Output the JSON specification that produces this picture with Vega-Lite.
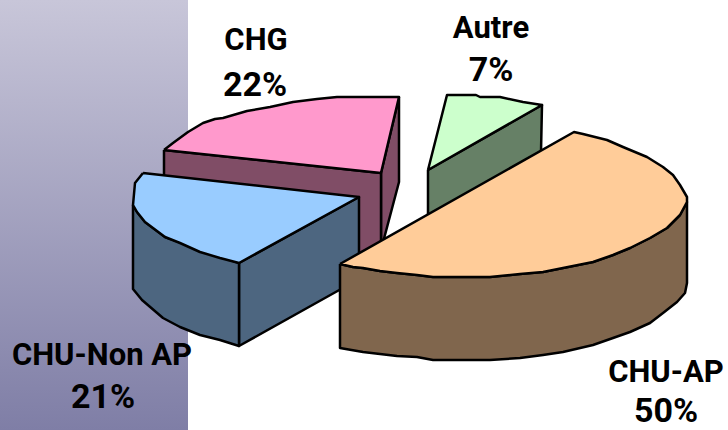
{"$schema":"https://vega.github.io/schema/vega-lite/v6.json","width":728,"height":430,"padding":0,"autosize":"none","background":"white","view":{"stroke":null},
"datasets":{
"panel":[{"x":0,"x2":188,"y":0,"y2":430}],
"names":[{"t":"CHG","x":256,"y":41},{"t":"Autre","x":491,"y":29},{"t":"CHU-Non AP","x":102,"y":356},{"t":"CHU-AP","x":666,"y":373}],
"shares":[{"t":"22%","x":255,"y":86},{"t":"7%","x":491,"y":71},{"t":"21%","x":103,"y":398},{"t":"50%","x":666,"y":412}],
"faces":[
{"s":"a1","f":"greenSide","i":1,"x":428,"y":170},{"s":"a1","f":"greenSide","i":2,"x":542,"y":105},{"s":"a1","f":"greenSide","i":3,"x":541,"y":152},{"s":"a1","f":"greenSide","i":4,"x":428,"y":216},{"s":"a1","f":"greenSide","i":5,"x":428,"y":170},
{"s":"a2","f":"green","i":1,"x":428,"y":170},{"s":"a2","f":"green","i":2,"x":447,"y":95},{"s":"a2","f":"green","i":3,"x":476,"y":95},{"s":"a2","f":"green","i":4,"x":480,"y":97},{"s":"a2","f":"green","i":5,"x":500,"y":97},{"s":"a2","f":"green","i":6,"x":523,"y":102},{"s":"a2","f":"green","i":7,"x":542,"y":105},{"s":"a2","f":"green","i":8,"x":428,"y":170},
{"s":"b1","f":"pinkSide","i":1,"x":399,"y":97},{"s":"b1","f":"pinkSide","i":2,"x":399,"y":182},{"s":"b1","f":"pinkSide","i":3,"x":381,"y":250},{"s":"b1","f":"pinkSide","i":4,"x":381,"y":173},{"s":"b1","f":"pinkSide","i":5,"x":399,"y":97},
{"s":"b2","f":"pinkSide","i":1,"x":164,"y":150},{"s":"b2","f":"pinkSide","i":2,"x":381,"y":173},{"s":"b2","f":"pinkSide","i":3,"x":381,"y":256},{"s":"b2","f":"pinkSide","i":4,"x":164,"y":240},{"s":"b2","f":"pinkSide","i":5,"x":164,"y":150},
{"s":"b3","f":"pink","i":1,"x":164,"y":150},{"s":"b3","f":"pink","i":2,"x":173,"y":143},{"s":"b3","f":"pink","i":3,"x":188,"y":132},{"s":"b3","f":"pink","i":4,"x":203,"y":123},{"s":"b3","f":"pink","i":5,"x":215,"y":119},{"s":"b3","f":"pink","i":6,"x":223,"y":118},{"s":"b3","f":"pink","i":7,"x":247,"y":111},{"s":"b3","f":"pink","i":8,"x":270,"y":107},{"s":"b3","f":"pink","i":9,"x":293,"y":102},{"s":"b3","f":"pink","i":10,"x":317,"y":99},{"s":"b3","f":"pink","i":11,"x":337,"y":97},{"s":"b3","f":"pink","i":12,"x":399,"y":97},{"s":"b3","f":"pink","i":13,"x":381,"y":173},{"s":"b3","f":"pink","i":14,"x":164,"y":150},
{"s":"c1","f":"blueSide","i":1,"x":239,"y":263},{"s":"c1","f":"blueSide","i":2,"x":359,"y":197},{"s":"c1","f":"blueSide","i":3,"x":359,"y":279},{"s":"c1","f":"blueSide","i":4,"x":239,"y":346},{"s":"c1","f":"blueSide","i":5,"x":239,"y":263},
{"s":"c2","f":"blueSide","i":1,"x":133,"y":205},{"s":"c2","f":"blueSide","i":2,"x":137,"y":212},{"s":"c2","f":"blueSide","i":3,"x":145,"y":222},{"s":"c2","f":"blueSide","i":4,"x":165,"y":237},{"s":"c2","f":"blueSide","i":5,"x":239,"y":263},{"s":"c2","f":"blueSide","i":6,"x":239,"y":346},{"s":"c2","f":"blueSide","i":7,"x":220,"y":340},{"s":"c2","f":"blueSide","i":8,"x":200,"y":335},{"s":"c2","f":"blueSide","i":9,"x":180,"y":327},{"s":"c2","f":"blueSide","i":10,"x":163,"y":318},{"s":"c2","f":"blueSide","i":11,"x":142,"y":300},{"s":"c2","f":"blueSide","i":12,"x":133,"y":289},{"s":"c2","f":"blueSide","i":13,"x":133,"y":205},
{"s":"c3","f":"blue","i":1,"x":143,"y":173},{"s":"c3","f":"blue","i":2,"x":359,"y":197},{"s":"c3","f":"blue","i":3,"x":239,"y":263},{"s":"c3","f":"blue","i":4,"x":220,"y":258},{"s":"c3","f":"blue","i":5,"x":200,"y":252},{"s":"c3","f":"blue","i":6,"x":180,"y":243},{"s":"c3","f":"blue","i":7,"x":165,"y":237},{"s":"c3","f":"blue","i":8,"x":145,"y":222},{"s":"c3","f":"blue","i":9,"x":137,"y":212},{"s":"c3","f":"blue","i":10,"x":133,"y":205},{"s":"c3","f":"blue","i":11,"x":135,"y":183},{"s":"c3","f":"blue","i":12,"x":143,"y":173},
{"s":"d1","f":"peachSide","i":1,"x":340,"y":264},{"s":"d1","f":"peachSide","i":2,"x":353,"y":267},{"s":"d1","f":"peachSide","i":3,"x":363,"y":268},{"s":"d1","f":"peachSide","i":4,"x":380,"y":271},{"s":"d1","f":"peachSide","i":5,"x":397,"y":273},{"s":"d1","f":"peachSide","i":6,"x":417,"y":275},{"s":"d1","f":"peachSide","i":7,"x":433,"y":277},{"s":"d1","f":"peachSide","i":8,"x":490,"y":277},{"s":"d1","f":"peachSide","i":9,"x":520,"y":274},{"s":"d1","f":"peachSide","i":10,"x":543,"y":272},{"s":"d1","f":"peachSide","i":11,"x":563,"y":268},{"s":"d1","f":"peachSide","i":12,"x":593,"y":262},{"s":"d1","f":"peachSide","i":13,"x":613,"y":255},{"s":"d1","f":"peachSide","i":14,"x":630,"y":248},{"s":"d1","f":"peachSide","i":15,"x":650,"y":238},{"s":"d1","f":"peachSide","i":16,"x":667,"y":228},{"s":"d1","f":"peachSide","i":17,"x":680,"y":215},{"s":"d1","f":"peachSide","i":18,"x":687,"y":202},{"s":"d1","f":"peachSide","i":19,"x":687,"y":283},{"s":"d1","f":"peachSide","i":20,"x":685,"y":293},{"s":"d1","f":"peachSide","i":21,"x":677,"y":302},{"s":"d1","f":"peachSide","i":22,"x":663,"y":313},{"s":"d1","f":"peachSide","i":23,"x":650,"y":323},{"s":"d1","f":"peachSide","i":24,"x":630,"y":332},{"s":"d1","f":"peachSide","i":25,"x":613,"y":338},{"s":"d1","f":"peachSide","i":26,"x":593,"y":345},{"s":"d1","f":"peachSide","i":27,"x":563,"y":352},{"s":"d1","f":"peachSide","i":28,"x":543,"y":355},{"s":"d1","f":"peachSide","i":29,"x":520,"y":358},{"s":"d1","f":"peachSide","i":30,"x":490,"y":360},{"s":"d1","f":"peachSide","i":31,"x":433,"y":360},{"s":"d1","f":"peachSide","i":32,"x":417,"y":357},{"s":"d1","f":"peachSide","i":33,"x":397,"y":356},{"s":"d1","f":"peachSide","i":34,"x":380,"y":354},{"s":"d1","f":"peachSide","i":35,"x":363,"y":352},{"s":"d1","f":"peachSide","i":36,"x":340,"y":348},{"s":"d1","f":"peachSide","i":37,"x":340,"y":264},
{"s":"d2","f":"peach","i":1,"x":340,"y":264},{"s":"d2","f":"peach","i":2,"x":574,"y":132},{"s":"d2","f":"peach","i":3,"x":583,"y":134},{"s":"d2","f":"peach","i":4,"x":607,"y":140},{"s":"d2","f":"peach","i":5,"x":623,"y":147},{"s":"d2","f":"peach","i":6,"x":647,"y":157},{"s":"d2","f":"peach","i":7,"x":663,"y":167},{"s":"d2","f":"peach","i":8,"x":673,"y":175},{"s":"d2","f":"peach","i":9,"x":680,"y":185},{"s":"d2","f":"peach","i":10,"x":687,"y":197},{"s":"d2","f":"peach","i":11,"x":687,"y":202},{"s":"d2","f":"peach","i":12,"x":680,"y":215},{"s":"d2","f":"peach","i":13,"x":667,"y":228},{"s":"d2","f":"peach","i":14,"x":650,"y":238},{"s":"d2","f":"peach","i":15,"x":630,"y":248},{"s":"d2","f":"peach","i":16,"x":613,"y":255},{"s":"d2","f":"peach","i":17,"x":593,"y":262},{"s":"d2","f":"peach","i":18,"x":563,"y":268},{"s":"d2","f":"peach","i":19,"x":543,"y":272},{"s":"d2","f":"peach","i":20,"x":520,"y":274},{"s":"d2","f":"peach","i":21,"x":490,"y":277},{"s":"d2","f":"peach","i":22,"x":433,"y":277},{"s":"d2","f":"peach","i":23,"x":417,"y":275},{"s":"d2","f":"peach","i":24,"x":397,"y":273},{"s":"d2","f":"peach","i":25,"x":380,"y":271},{"s":"d2","f":"peach","i":26,"x":363,"y":268},{"s":"d2","f":"peach","i":27,"x":353,"y":267},{"s":"d2","f":"peach","i":28,"x":340,"y":264}
]},
"layer":[
{"data":{"name":"panel"},"mark":{"type":"rect","color":{"gradient":"linear","x1":0,"y1":0,"x2":0,"y2":1,"stops":[{"offset":0,"color":"#c8c6d9"},{"offset":1,"color":"#7f7ea6"}]}},
"encoding":{"x":{"field":"x","type":"quantitative","scale":{"domain":[0,728],"nice":false,"zero":false},"axis":null},"x2":{"field":"x2"},"y":{"field":"y","type":"quantitative","scale":{"domain":[430,0],"nice":false,"zero":false},"axis":null},"y2":{"field":"y2"}}},
{"data":{"name":"faces"},"mark":{"type":"line","stroke":"#000000","strokeWidth":2.5,"strokeJoin":"round","interpolate":"linear"},
"encoding":{"x":{"field":"x","type":"quantitative","axis":null},"y":{"field":"y","type":"quantitative","axis":null},"detail":{"field":"s"},"order":{"field":"i","type":"quantitative"},"fill":{"field":"f","type":"nominal","legend":null,"scale":{"domain":["green","greenSide","pink","pinkSide","blue","blueSide","peach","peachSide"],"range":["#ccffcc","#668066","#ff99cc","#804d66","#99ccff","#4d6680","#ffcc99","#80664d"]}}}},
{"data":{"name":"names"},"mark":{"type":"text","font":"Roboto","fontWeight":"bold","fontSize":31,"color":"#000000","align":"center","baseline":"middle"},
"encoding":{"x":{"field":"x","type":"quantitative","axis":null},"y":{"field":"y","type":"quantitative","axis":null},"text":{"field":"t"}}},
{"data":{"name":"shares"},"mark":{"type":"text","font":"Roboto","fontWeight":"bold","fontSize":34,"color":"#000000","align":"center","baseline":"middle"},
"encoding":{"x":{"field":"x","type":"quantitative","axis":null},"y":{"field":"y","type":"quantitative","axis":null},"text":{"field":"t"}}}
]}
